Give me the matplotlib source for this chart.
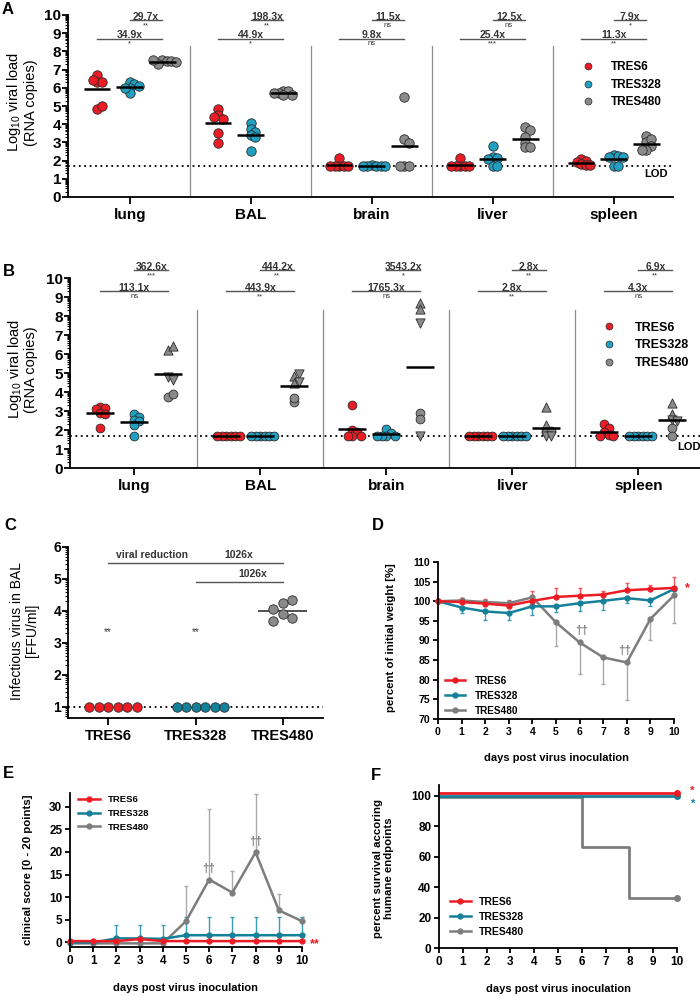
import numpy as np
import matplotlib
matplotlib.use("Agg")
import matplotlib.pyplot as plt
from matplotlib.lines import Line2D
from matplotlib.ticker import FixedLocator

plt.rcParams['font.family'] = ['Liberation Sans', 'DejaVu Sans']
plt.rcParams['font.weight'] = 'bold'
plt.rcParams['axes.labelweight'] = 'bold'

# ---------------- data ----------------
groups = ['TRES6', 'TRES328', 'TRES480']
organs = ['lung', 'BAL', 'brain', 'liver', 'spleen']
LOD = 1.7

# panel A: log10 RNA copies per organ, one list per group
A_tres6 = [[6.7, 6.33, 6.33, 6.42, 4.86, 5.0],
           [4.86, 4.5, 4.3, 4.37, 3.49, 2.97],
           [2.15, 1.7, 1.7, 1.7, 1.7, 1.7],
           [2.15, 1.7, 1.7, 1.7, 1.7, 1.7],
           [2.11, 2.0, 1.93, 1.82, 1.74, 1.74]]
A_tres328 = [[6.3, 6.2, 6.0, 5.7, 6.0, 6.1],
             [4.05, 3.75, 3.55, 3.4, 3.3, 2.5],
             [1.75, 1.7, 1.7, 1.7, 1.7, 1.7],
             [2.8, 2.2, 2.15, 2.1, 1.7, 1.7],
             [2.3, 2.25, 2.2, 2.2, 1.72, 1.72]]
A_tres480 = [[7.5, 7.45, 7.3, 7.45, 7.52, 7.4],
             [5.85, 5.8, 5.7, 5.62, 5.58, 5.72],
             [5.5, 3.16, 2.97, 1.7, 1.7, 1.7],
             [3.85, 3.67, 3.27, 2.99, 2.72, 2.72],
             [3.34, 3.03, 3.16, 2.79, 2.6, 2.6]]
A_fold_low = ['34.9x', '44.9x', '9.8x', '25.4x', '11.3x']
A_sig_low = ['*', '*', 'ns', '***', '**']
A_fold_up = ['29.7x', '198.3x', '11.5x', '12.5x', '7.9x']
A_sig_up = ['**', '**', 'ns', 'ns', '*']

# panel B
B_tres6 = [[3.2, 3.15, 3.1, 2.9, 2.85, 2.1],
           [1.7, 1.7, 1.7, 1.7, 1.7, 1.7],
           [3.3, 2.0, 1.9, 1.7, 1.7, 1.7],
           [1.7, 1.7, 1.7, 1.7, 1.7, 1.7],
           [2.3, 2.1, 1.9, 1.75, 1.7, 1.7]]
B_tres328 = [[2.85, 2.7, 2.55, 2.45, 2.25, 1.7],
             [1.7, 1.7, 1.7, 1.7, 1.7, 1.7],
             [2.05, 1.85, 1.7, 1.7, 1.7, 1.7],
             [1.7, 1.7, 1.7, 1.7, 1.7, 1.7],
             [1.7, 1.7, 1.7, 1.7, 1.7, 1.7]]
B_tres480 = [[6.2, 6.42, 4.8, 4.63, 3.76, 3.88],
             [4.85, 4.5, 4.95, 4.55, 3.45, 3.7],
             [8.7, 8.39, 7.64, 2.92, 2.57, 1.66],
             [3.23, 2.27, 1.92, 1.96, 1.66, 1.7],
             [3.44, 2.83, 2.53, 2.45, 2.1, 1.66]]
B_tres480_shapes = [['^', '^', 'v', 'v', 'o', 'o'],
                    ['^', '^', 'v', 'v', 'o', 'o'],
                    ['^', '^', 'v', 'o', 'o', 'v'],
                    ['^', '^', 'o', 'o', 'v', 'v'],
                    ['^', '^', 'v', 'v', 'o', 'o']]
B_fold_low = ['113.1x', '443.9x', '1765.3x', '2.8x', '4.3x']
B_sig_low = ['ns', '**', 'ns', '**', 'ns']
B_fold_up = ['362.6x', '444.2x', '3543.2x', '2.8x', '6.9x']
B_sig_up = ['***', '**', '*', '**', '**']

# panel C: log10 FFU/ml in BAL
C_values = [[1, 1, 1, 1, 1, 1],
            [1, 1, 1, 1, 1, 1],
            [4.24, 4.33, 4.05, 3.9, 3.79, 3.70]]
C_sig = ['**', '**', '']

# panels D-F
days = list(range(11))
D_tres6 = [100.0, 99.8, 99.4, 98.9, 100.1, 101.1, 101.4, 101.7, 102.8, 103.1, 103.4]
D_tres6_up = [0, 1.0, 1.2, 1.5, 2.4, 2.4, 2.0, 1.0, 1.9, 1.1, 2.7]
D_tres328 = [100.0, 98.4, 97.4, 97.0, 98.7, 98.7, 99.5, 100.1, 100.8, 100.2, 103.1]
D_tres328_dn = [0, 1.5, 2.1, 1.9, 2.1, 1.5, 2.1, 2.3, 1.3, 1.5, 0]
D_tres480 = [100.0, 100.2, 99.8, 99.5, 101.0, 94.6, 89.5, 85.7, 84.4, 95.5, 101.5]
D_tres480_dn = [0, 0, 0, 0, 0, 6.1, 8.0, 6.8, 9.5, 5.5, 7.0]

E_tres6 = [0.3, 0.3, 0.3, 0.74, 0.3, 0.3, 0.3, 0.3, 0.3, 0.3, 0.3]
E_tres328 = [0, 0, 0.9, 0.9, 0.8, 1.6, 1.6, 1.6, 1.6, 1.6, 1.6]
E_tres328_up = [0, 0, 2.9, 2.9, 3.0, 4.1, 4.1, 4.1, 4.1, 4.1, 4.1]
E_tres480 = [-0.2, -0.2, -0.2, -0.2, -0.2, 4.7, 13.9, 11.0, 19.9, 7.1, 4.7]
E_tres480_up = [0, 0, 0, 0, 0, 7.8, 15.5, 4.8, 12.8, 3.7, 1.0]

F_tres6 = [101.8] * 11
F_tres328 = [100.0] * 11
F_tres480 = [99.0, 99.0, 99.0, 99.0, 99.0, 99.0, 66.0, 66.0, 32.5, 32.5, 32.5]

red = '#ec1c24'
cyan = '#21a0c2'
teal = '#14809a'
grey = '#8a8a8a'
lgrey = '#a9a9a9'
edge = '#2b2b2b'
W, H = 700, 996


def px_axes(fig, left, top, right, bottom):
    return fig.add_axes([left / W, 1 - bottom / H, (right - left) / W, (bottom - top) / H])


def swarm(ax, x0, vals, step):
    # simple beeswarm: shift points sideways (in pixels) until they do not overlap
    pts = ax.transData.transform(np.column_stack([np.full(len(vals), x0), vals]))
    placed = []
    offs = np.zeros(len(vals))
    cands = [0]
    for m in range(1, 12):
        cands += [m, -m]
    for i in range(len(vals)):
        y = pts[i, 1]
        for c in cands:
            x = c * step
            if all((x - px) ** 2 + (y - py) ** 2 >= (step * 0.999) ** 2 for px, py in placed):
                break
        placed.append((x, y))
        offs[i] = x
    unit = ax.transData.transform((1, 0))[0] - ax.transData.transform((0, 0))[0]
    return x0 + offs / unit


def style_prism(ax, lw=1.3):
    for s in ['top', 'right']:
        ax.spines[s].set_visible(False)
    ax.spines['left'].set_linewidth(lw)
    ax.spines['bottom'].set_linewidth(lw)
    ax.tick_params(direction='out', width=lw, length=4)


def log_minor(lo, hi):
    return [k + np.log10(m) for k in range(lo, hi) for m in range(2, 10)]


def organ_panel(ax, d6, d328, d480, shapes, fold_low, sig_low, fold_up, sig_up,
                y_low, y_up, ms, step, legend_anchor, legend_fs, legend_pad, lod_xy):
    ax.set_xlim(-0.51, 4.49)
    ax.set_ylim(0, 10)
    style_prism(ax)
    ax.set_yticks(range(11))
    ax.yaxis.set_minor_locator(FixedLocator(log_minor(0, 10)))
    ax.tick_params(axis='y', which='minor', length=2.5, width=0.8)
    ax.tick_params(axis='y', labelsize=11, pad=1)
    ax.set_xticks(range(len(organs)))
    ax.set_xticklabels(organs, fontsize=11)
    ax.tick_params(axis='x', length=5, pad=3)
    for i in range(len(organs) - 1):
        ax.plot([i + 0.5, i + 0.5], [0, 8.3], color='#8c8c8c', lw=0.9)
    ax.axhline(LOD, color='black', lw=1.3, ls=(0, (1, 2)), zorder=1)
    off = 0.27
    for i in range(len(organs)):
        for j, (vals, col) in enumerate([(d6[i], red), (d328[i], cyan), (d480[i], grey)]):
            x0 = i + (j - 1) * off
            xs = swarm(ax, x0, vals, step)
            ax.hlines(np.mean(vals), x0 - 0.11, x0 + 0.11, color='black', lw=1.8, zorder=4)
            if j == 2 and shapes is not None:
                for xx, yy, mk in zip(xs, vals, shapes[i]):
                    ax.scatter(xx, yy, s=ms * (1.1 if mk != 'o' else 1), marker=mk, color=col,
                               edgecolor=edge, lw=0.6, zorder=3, clip_on=False)
            else:
                ax.scatter(xs, vals, s=ms, color=col, edgecolor=edge, lw=0.6, zorder=3,
                           clip_on=False)
        for (x1, x2, yb, lab, sig) in [(i - off, i + off, y_low, fold_low[i], sig_low[i]),
                                        (i, i + off, y_up, fold_up[i], sig_up[i])]:
            ax.plot([x1, x2], [yb, yb], color='#555555', lw=1.0, clip_on=False)
            ax.text((x1 + x2) / 2, yb + 0.02, lab, ha='center', va='baseline', fontsize=7.5,
                    color='#333333', clip_on=False)
            ax.text((x1 + x2) / 2, yb - 0.1, sig, ha='center', va='top', fontsize=5.5,
                    weight='normal', color='#333333', clip_on=False)
    ax.text(lod_xy[0], lod_xy[1], 'LOD', ha='right', va='center', fontsize=8)
    handles = [Line2D([], [], marker='o', ls='', mfc=c, mec=edge, mew=0.5, ms=5)
               for c in (red, cyan, grey)]
    ax.legend(handles, groups, loc='upper left', bbox_to_anchor=legend_anchor, frameon=False,
              fontsize=legend_fs, handlelength=1.0, handletextpad=legend_pad, borderpad=0,
              borderaxespad=0, labelspacing=0.45)


fig = plt.figure(figsize=(W / 100, H / 100), dpi=100)

organ_ylabel = 'Log$_{\\mathregular{10}}$ viral load\n(RNA copies)'

# ---- A ----
axA = px_axes(fig, 68, 15, 673, 197)
organ_panel(axA, A_tres6, A_tres328, A_tres480, None, A_fold_low, A_sig_low, A_fold_up, A_sig_up,
            8.7, 9.7, 46, 4.5, (0.849, 0.745), 8.5, 1.5, (4.45, 1.25))
axA.set_ylabel(organ_ylabel, fontsize=10.5, weight='normal', linespacing=1.05)
axA.yaxis.set_label_coords(-0.05, 0.52)

# ---- B ----
axB = px_axes(fig, 70, 278, 700, 468)
organ_panel(axB, B_tres6, B_tres328, B_tres480, B_tres480_shapes, B_fold_low, B_sig_low,
            B_fold_up, B_sig_up, 9.3, 10.4, 40, 4.5, (0.845, 0.77), 9, 1.6, (4.5, 1.1))
axB.set_ylabel(organ_ylabel, fontsize=10.5, weight='normal', linespacing=1.05)
axB.yaxis.set_label_coords(-0.05, 0.52)

# ---- C ----
axC = px_axes(fig, 68, 547, 323, 718)
axC.set_xlim(-0.46, 2.46)
axC.set_ylim(0.65, 6)
style_prism(axC)
axC.set_yticks(range(1, 7))
axC.yaxis.set_minor_locator(FixedLocator(log_minor(0, 6)))
axC.tick_params(axis='y', which='minor', length=2.5, width=0.8)
axC.tick_params(axis='y', labelsize=10, pad=1)
axC.set_xticks(range(3))
axC.set_xticklabels(groups, fontsize=10.5)
axC.tick_params(axis='x', length=5, pad=3)
axC.axhline(1, color='black', lw=1.3, ls=(0, (1, 2)), zorder=1)
for j, (vals, col) in enumerate(zip(C_values, [red, teal, grey])):
    xs = swarm(axC, j, vals, 9.5)
    axC.scatter(xs, vals, s=46, color=col, edgecolor=edge, lw=0.6, zorder=3)
    if j == 2:
        axC.hlines(np.mean(vals), j - 0.28, j + 0.28, color='#333333', lw=1.2, zorder=2)
    axC.text(j, 3.35, C_sig[j], ha='center', va='center', fontsize=7, weight='normal',
             color='#333333')
axC.plot([0, 2], [5.5, 5.5], color='#555555', lw=1.0)
axC.plot([1, 2], [4.92, 4.92], color='#555555', lw=1.0)
axC.text(0.5, 5.58, 'viral reduction', ha='center', va='bottom', fontsize=7.5, color='#333333')
axC.text(1.5, 5.58, '1026x', ha='center', va='bottom', fontsize=7.5, color='#333333')
axC.text(1.66, 5.0, '1026x', ha='center', va='bottom', fontsize=7.5, color='#333333')
axC.set_ylabel('Infectious virus in BAL\n[FFU/ml]', fontsize=10, weight='normal', linespacing=1.05)
axC.yaxis.set_label_coords(-0.115, 0.51)


def time_axes(ax, fs, xlab_pad=9):
    ax.set_xlim(0, 10)
    style_prism(ax, 1.3)
    ax.set_xticks(days)
    ax.tick_params(labelsize=fs, length=3.5, pad=2)
    ax.set_xlabel('days post virus inoculation', fontsize=8, labelpad=xlab_pad)


def line_legend(ax, anchor, fs, hl, pad):
    handles = [Line2D([], [], color=c, marker='o', ms=3.5, lw=1.8) for c in (red, teal, '#7d7d7d')]
    ax.legend(handles, groups, loc='upper left', bbox_to_anchor=anchor, frameon=False, fontsize=fs,
              handlelength=hl, handletextpad=pad, borderpad=0, borderaxespad=0, labelspacing=0.5)


# ---- D ----
axD = px_axes(fig, 438, 562, 674, 719)
time_axes(axD, 7.5, 12)
axD.set_ylim(70, 110)
axD.set_yticks(range(70, 111, 5))
axD.errorbar(days, D_tres480, yerr=[D_tres480_dn, [0] * 11], fmt='none', ecolor=lgrey,
             elinewidth=1.0, capsize=1.5, clip_on=False)
axD.errorbar(days, D_tres328, yerr=[D_tres328_dn, [0] * 11], fmt='none', ecolor='#3a9cb2',
             elinewidth=1.0, capsize=1.5, clip_on=False)
axD.errorbar(days, D_tres6, yerr=[[0] * 11, D_tres6_up], fmt='none', ecolor='#f0585d',
             elinewidth=1.0, capsize=1.5, clip_on=False)
axD.plot(days, D_tres480, color='#7d7d7d', marker='o', ms=3.5, lw=1.8, clip_on=False)
axD.plot(days, D_tres328, color=teal, marker='o', ms=3.5, lw=1.8, clip_on=False)
axD.plot(days, D_tres6, color=red, marker='o', ms=3.5, lw=1.8, clip_on=False)
axD.text(6.1, D_tres480[6] + 1.3, '††', ha='center', va='bottom', fontsize=8.5, color='#7d7d7d')
axD.text(7.9, D_tres480[8] + 1.3, '††', ha='center', va='bottom', fontsize=8.5, color='#7d7d7d')
axD.text(10.55, D_tres6[10], '*', ha='center', va='center', fontsize=9, color=red)
axD.set_ylabel('percent of initial weight [%]', fontsize=8.2)
axD.yaxis.set_label_coords(-0.18, 0.52)
line_legend(axD, (0.03, 0.275), 7.2, 2.0, 1.0)

# ---- E ----
axE = px_axes(fig, 70, 793, 302, 947)
time_axes(axE, 8.5, 12)
axE.set_ylim(-1, 33)
axE.set_yticks(range(0, 31, 5))
axE.errorbar(days, E_tres480, yerr=[[0] * 11, E_tres480_up], fmt='none', ecolor=lgrey,
             elinewidth=1.0, capsize=1.5, clip_on=False)
axE.errorbar(days, E_tres328, yerr=[[0] * 11, E_tres328_up], fmt='none', ecolor='#3a9cb2',
             elinewidth=1.0, capsize=1.5, clip_on=False)
axE.plot(days, E_tres480, color='#7d7d7d', marker='o', ms=3.5, lw=1.8, clip_on=False)
axE.plot(days, E_tres328, color=teal, marker='o', ms=3.5, lw=1.8, clip_on=False)
axE.plot(days, E_tres6, color=red, marker='o', ms=3.5, lw=1.8, clip_on=False)
axE.text(6.0, E_tres480[6] + 1.0, '††', ha='center', va='bottom', fontsize=8.5, color='#7d7d7d')
axE.text(8.0, E_tres480[8] + 1.0, '††', ha='center', va='bottom', fontsize=8.5, color='#7d7d7d')
axE.text(10.55, -0.3, '**', ha='center', va='center', fontsize=9, color=red)
axE.set_ylabel('clinical score [0 - 20 points]', fontsize=8.2)
axE.yaxis.set_label_coords(-0.16, 0.5)
line_legend(axE, (0.035, 0.985), 6.8, 2.3, 0.8)

# ---- F ----
axF = px_axes(fig, 439, 785, 677, 948)
time_axes(axF, 8.5, 12)
axF.set_ylim(0, 107)
axF.set_yticks(range(0, 101, 20))
for vals, col in [(F_tres480, '#7d7d7d'), (F_tres328, teal), (F_tres6, red)]:
    axF.step(days, vals, where='post', color=col, lw=2.0, clip_on=False)
    axF.plot(days[-1], vals[-1], 'o', color=col, ms=4, clip_on=False)
axF.text(10.65, F_tres6[-1] + 1.5, '*', ha='center', va='center', fontsize=8, color=red)
axF.text(10.7, F_tres328[-1] - 5.5, '*', ha='center', va='center', fontsize=8, color=teal)
axF.set_ylabel('percent survival accoring\nhumane endpoints', fontsize=8.2, linespacing=1.1)
axF.yaxis.set_label_coords(-0.19, 0.49)
line_legend(axF, (0.046, 0.315), 7.5, 2.0, 0.8)

for lab, x, y in [('A', 8, 9), ('B', 9, 271), ('C', 10, 525), ('D', 378, 526),
                  ('E', 8, 773), ('F', 376, 775)]:
    fig.text(x / W, 1 - y / H, lab, ha='center', va='center', fontsize=12, weight='bold')

fig.savefig('out.png', dpi=100)
